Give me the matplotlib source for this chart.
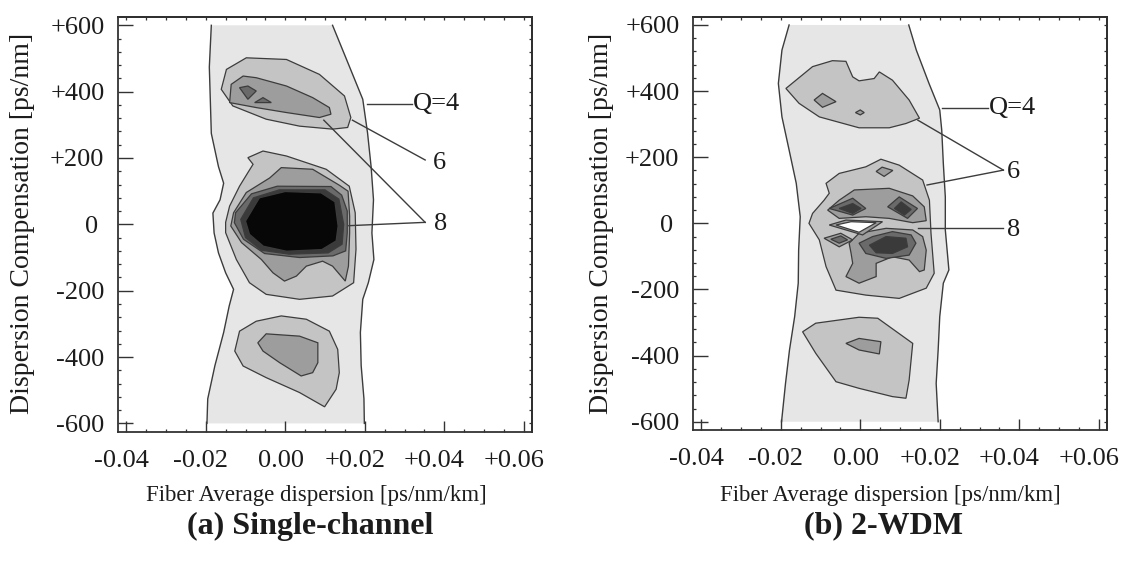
import matplotlib
matplotlib.use("Agg")
import matplotlib.pyplot as plt
from matplotlib.ticker import MultipleLocator
from matplotlib.transforms import ScaledTranslation

plt.rcParams['font.family'] = ['Liberation Serif', 'DejaVu Serif']

# ---------------- axis ticks / labels ----------------
x_ticks = [-0.04, -0.02, 0.00, 0.02, 0.04, 0.06]
x_tick_labels = ['-0.04', '-0.02', '0.00', '+0.02', '+0.04', '+0.06']
y_ticks = [-600, -400, -200, 0, 200, 400, 600]
y_tick_labels = ['-600', '-400', '-200', '0', '+200', '+400', '+600']
x_label = 'Fiber Average dispersion [ps/nm/km]'
y_label = 'Dispersion Compensation [ps/nm]'
titles = ['(a) Single-channel', '(b) 2-WDM']
contour_labels = ['Q=4', '6', '8']

# ---------------- panel (a): Q contour boundaries ----------------
a_q4_left_x = [-0.0186, -0.0191, -0.0186, -0.0168, -0.0155, -0.0164, -0.0182, -0.0179,
               -0.0168, -0.0150, -0.0130, -0.0141, -0.0155, -0.0177, -0.0195, -0.0197]
a_q4_left_y = [600, 474, 274, 174, 124, 74, 34, -26, -86, -146, -196, -246, -326, -426, -526, -600]
a_q4_right_x = [0.0119, 0.0161, 0.0195, 0.0207, 0.0216, 0.0222, 0.0218, 0.0223,
                0.0209, 0.0195, 0.0189, 0.0191, 0.0198, 0.0199]
a_q4_right_y = [600, 477, 377, 276, 174, 74, -26, -106, -176, -226, -326, -426, -526, -600]

a_q6_top_x = [-0.0161, -0.0148, -0.0098, 0.0003, 0.0086, 0.0149, 0.0165, 0.0157, 0.0119, 0.0036, -0.0048, -0.0132]
a_q6_top_y = [407, 467, 502, 497, 452, 387, 322, 292, 287, 296, 317, 357]
a_q8_top_x = [-0.0140, -0.0136, -0.0106, -0.0073, 0.0003, 0.0069, 0.0111, 0.0115, 0.0086, 0.0003, -0.0073]
a_q8_top_y = [367, 422, 447, 442, 417, 382, 352, 332, 322, 337, 352]
a_q10_top1_x = [-0.0115, -0.0094, -0.0073, -0.0094]
a_q10_top1_y = [412, 417, 402, 377]
a_q10_top2_x = [-0.0077, -0.0056, -0.0035]
a_q10_top2_y = [367, 382, 367]

a_q6_mid_x = [-0.0094, -0.0056, 0.0003, 0.0103, 0.0161, 0.0176, 0.0178, 0.0172, 0.0119, 0.0036,
              -0.0048, -0.0090, -0.0123, -0.0150, -0.0150, -0.0140, -0.0115, -0.0094, -0.0081]
a_q6_mid_y = [201, 221, 206, 166, 115, 35, -75, -176, -216, -226, -211, -176, -106, -25, 6, 55, 115, 156, 181]
a_q8_mid_x = [-0.0039, -0.0010, 0.0069, 0.0136, 0.0158, 0.0162, 0.0162, 0.0159, 0.0151, 0.0119,
              0.0094, 0.0053, 0.0028, -0.0002, -0.0031, -0.0060, -0.0110, -0.0137, -0.0130, -0.0098]
a_q8_mid_y = [140, 171, 166, 118, 100, 25, -25, -126, -171, -126, -111, -126, -156, -171, -146, -106, -55, -5, 35, 96]
a_q10_mid_x = [-0.0125, -0.0085, -0.0020, 0.0115, 0.0142, 0.0156, 0.0156, 0.0152, 0.0120, 0.0036, -0.0052, -0.0105, -0.0128]
a_q10_mid_y = [35, 92, 115, 114, 88, 40, -25, -80, -95, -100, -88, -45, 5]
a_q12_mid_x = [-0.0112, -0.0080, -0.0015, 0.0100, 0.0135, 0.0147, 0.0143, 0.0108, 0.0010, -0.0060, -0.0100]
a_q12_mid_y = [15, 80, 104, 104, 76, 0, -60, -86, -90, -78, -40]
a_core_x = [-0.0100, -0.0065, 0.0000, 0.0090, 0.0125, 0.0133, 0.0128, 0.0092, 0.0003, -0.0055, -0.0090]
a_core_y = [10, 80, 99, 95, 68, -5, -50, -76, -81, -66, -30]

a_q6_bot_x = [-0.0127, -0.0115, -0.0073, -0.0010, 0.0053, 0.0111, 0.0132, 0.0136, 0.0128, 0.0099, 0.0036, -0.0048, -0.0106]
a_q6_bot_y = [-382, -322, -292, -276, -286, -322, -377, -447, -497, -550, -507, -462, -427]
a_q8_bot_x = [-0.0069, -0.0048, 0.0036, 0.0082, 0.0082, 0.0069, 0.0040, -0.0014, -0.0056]
a_q8_bot_y = [-357, -330, -337, -357, -417, -447, -457, -417, -382]

# ---------------- panel (b): Q contour boundaries ----------------
b_q4_left_x = [-0.0179, -0.0197, -0.0206, -0.0197, -0.0179, -0.0161, -0.0151, -0.0155,
               -0.0156, -0.0165, -0.0178, -0.0188, -0.0198]
b_q4_left_y = [600, 524, 423, 322, 222, 121, 20, -81, -181, -282, -383, -484, -600]
b_q4_right_x = [0.0122, 0.0141, 0.0173, 0.0200, 0.0205, 0.0209, 0.0214, 0.0214, 0.0223,
                0.0209, 0.0200, 0.0196, 0.0191, 0.0196]
b_q4_right_y = [600, 524, 423, 343, 282, 181, 80, -20, -141, -181, -282, -383, -484, -600]

b_q6_top_x = [-0.0187, -0.0120, -0.0070, -0.0036, -0.0019, -0.0003, 0.0035, 0.0048, 0.0081,
              0.0123, 0.0149, 0.0115, 0.0073, -0.0003, -0.0103, -0.0154]
b_q6_top_y = [408, 474, 492, 490, 443, 431, 438, 458, 433, 373, 318, 302, 289, 289, 322, 363]
b_q8_top_x = [-0.0116, -0.0095, -0.0061, -0.0095]
b_q8_top_y = [373, 393, 368, 351]
b_q8_dot_x = [-0.0012, 0.0000, 0.0010, 0.0000]
b_q8_dot_y = [335, 343, 335, 328]

b_q6_mid_x = [-0.0086, -0.0053, 0.0014, 0.0052, 0.0098, 0.0157, 0.0174, 0.0178, 0.0186, 0.0166,
              0.0098, 0.0014, -0.0061, -0.0086, -0.0103, -0.0129, -0.0120, -0.0091, -0.0078]
b_q6_mid_y = [121, 151, 171, 194, 176, 131, 70, -30, -151, -196, -227, -217, -202, -131, -50, 0, 30, 70, 91]
b_q8_midtop_x = [0.0040, 0.0055, 0.0082, 0.0060]
b_q8_midtop_y = [157, 170, 160, 142]
b_q8_upper_x = [-0.0015, 0.0073, 0.0132, 0.0161, 0.0166, 0.0132, 0.0073, 0.0014, -0.0053, -0.0082, -0.0053]
b_q8_upper_y = [101, 106, 83, 50, 8, 2, 15, 20, 15, 40, 70]
b_q10_ul_x = [-0.0078, -0.0019, 0.0014, -0.0019]
b_q10_ul_y = [45, 76, 45, 25]
b_q12_ul_x = [-0.0053, -0.0019, 0.0002, -0.0019]
b_q12_ul_y = [45, 60, 45, 30]
b_q10_ur_x = [0.0069, 0.0098, 0.0144, 0.0119]
b_q10_ur_y = [50, 80, 45, 15]
b_q12_ur_x = [0.0086, 0.0103, 0.0128, 0.0111]
b_q12_ur_y = [45, 65, 42, 25]
b_q8_lower_x = [-0.0028, -0.0003, 0.0065, 0.0132, 0.0157, 0.0166, 0.0161, 0.0149, 0.0123, 0.0081,
                0.0040, 0.0040, -0.0003, -0.0036, -0.0019, -0.0023]
b_q8_lower_y = [-60, -30, -15, -20, -40, -81, -141, -146, -111, -101, -121, -161, -181, -161, -121, -91]
b_q10_lower_x = [-0.0003, 0.0031, 0.0081, 0.0128, 0.0140, 0.0123, 0.0065, 0.0014]
b_q10_lower_y = [-60, -40, -25, -35, -60, -96, -106, -91]
b_q12_lower_x = [0.0023, 0.0065, 0.0115, 0.0119, 0.0081, 0.0040]
b_q12_lower_y = [-66, -40, -45, -71, -91, -89]
b_ring_x = [-0.0078, -0.0036, 0.0056, 0.0006]
b_ring_y = [-5, 10, 5, -35]
b_peak_x = [-0.0061, -0.0023, 0.0040, -0.0003]
b_peak_y = [-5, 5, 2, -27]
b_q8_sl_x = [-0.0091, -0.0049, -0.0019, -0.0053]
b_q8_sl_y = [-45, -30, -50, -71]
b_q10_sl_x = [-0.0074, -0.0049, -0.0032, -0.0053]
b_q10_sl_y = [-48, -38, -50, -60]
b_q6_bot_x = [-0.0145, -0.0112, -0.0003, 0.0044, 0.0132, 0.0123, 0.0115, 0.0081, -0.0003, -0.0061, -0.0112]
b_q6_bot_y = [-328, -302, -284, -287, -363, -474, -529, -524, -499, -479, -393]
b_q8_bot_x = [-0.0036, -0.0003, 0.0052, 0.0048, -0.0003]
b_q8_bot_y = [-363, -348, -358, -395, -383]

# ---------------- styles ----------------
FILL = {4: '#e6e6e6', 6: '#c4c4c4', 8: '#9d9d9d', 10: '#6a6a6a', 12: '#3a3a3a',
        14: '#070707', 'peak': '#ffffff'}
LINE = '#3c3c3c'
TXT = '#1c1c1c'

a_layers = [
    (6, a_q6_top_x, a_q6_top_y), (8, a_q8_top_x, a_q8_top_y),
    (10, a_q10_top1_x, a_q10_top1_y), (10, a_q10_top2_x, a_q10_top2_y),
    (6, a_q6_mid_x, a_q6_mid_y), (8, a_q8_mid_x, a_q8_mid_y),
    (10, a_q10_mid_x, a_q10_mid_y), (12, a_q12_mid_x, a_q12_mid_y), (14, a_core_x, a_core_y),
    (6, a_q6_bot_x, a_q6_bot_y), (8, a_q8_bot_x, a_q8_bot_y),
]
b_layers = [
    (6, b_q6_top_x, b_q6_top_y), (8, b_q8_top_x, b_q8_top_y), (8, b_q8_dot_x, b_q8_dot_y),
    (6, b_q6_mid_x, b_q6_mid_y), (8, b_q8_midtop_x, b_q8_midtop_y),
    (8, b_q8_upper_x, b_q8_upper_y),
    (10, b_q10_ul_x, b_q10_ul_y), (12, b_q12_ul_x, b_q12_ul_y),
    (10, b_q10_ur_x, b_q10_ur_y), (12, b_q12_ur_x, b_q12_ur_y),
    (8, b_q8_lower_x, b_q8_lower_y), (10, b_q10_lower_x, b_q10_lower_y),
    (12, b_q12_lower_x, b_q12_lower_y),
    (8, b_ring_x, b_ring_y), ('peak', b_peak_x, b_peak_y),
    (8, b_q8_sl_x, b_q8_sl_y), (10, b_q10_sl_x, b_q10_sl_y),
    (6, b_q6_bot_x, b_q6_bot_y), (8, b_q8_bot_x, b_q8_bot_y),
]

W, H = 1128, 564
fig = plt.figure(figsize=(W / 100, H / 100), dpi=100)
fig.patch.set_facecolor('white')


def make_panel(rect, q4l_x, q4l_y, q4r_x, q4r_y, layers):
    ax = fig.add_axes(rect)
    ax.set_xlim(-0.042, 0.062)
    ax.set_ylim(-625, 625)
    # Q=4 band
    ax.fill(q4l_x + q4r_x[::-1], q4l_y + q4r_y[::-1], facecolor=FILL[4], edgecolor='none', zorder=1)
    ax.plot(q4l_x, q4l_y, color=LINE, lw=1.0, zorder=2)
    ax.plot(q4r_x, q4r_y, color=LINE, lw=1.0, zorder=2)
    for i, (lev, xs, ys) in enumerate(layers):
        ax.fill(xs, ys, facecolor=FILL[lev], edgecolor=LINE, lw=0.9, zorder=3 + i * 0.01)
    # ticks
    ax.set_xticks(x_ticks)
    ax.set_xticklabels(x_tick_labels)
    ax.set_yticks(y_ticks)
    ax.set_yticklabels(y_tick_labels)
    ax.xaxis.set_minor_locator(MultipleLocator(0.005))
    ax.yaxis.set_minor_locator(MultipleLocator(40))
    ax.tick_params(axis='x', which='major', direction='in', length=8, width=1.0, pad=13,
                   labelsize=19, labelcolor=TXT, color='#333333')
    ax.tick_params(axis='y', which='major', direction='in', length=11, width=1.0, pad=10,
                   labelsize=19, labelcolor=TXT, color='#333333')
    ax.tick_params(which='minor', direction='in', length=2.5, width=0.9, color='#333333')
    for sp in ax.spines.values():
        sp.set_linewidth(1.3)
        sp.set_color('#333333')
    # mirrored short ticks on top / right
    sx = ax.secondary_xaxis('top')
    sx.set_xticks(x_ticks)
    sx.xaxis.set_minor_locator(MultipleLocator(0.005))
    sx.tick_params(which='both', direction='in', length=2.5, width=0.9, labeltop=False, color='#333333')
    sx.spines['top'].set_linewidth(1.3)
    sy = ax.secondary_yaxis('right')
    sy.set_yticks(y_ticks)
    sy.yaxis.set_minor_locator(MultipleLocator(40))
    sy.tick_params(which='both', direction='in', length=2.5, width=0.9, labelright=False, color='#333333')
    sy.spines['right'].set_linewidth(1.3)
    # nudge tick labels like the original
    for t, lab in zip(ax.xaxis.get_major_ticks(), x_tick_labels):
        dx = -10 if lab.startswith('+') else (-5 if lab.startswith('-') else -4.5)
        t.label1.set_transform(t.label1.get_transform() + ScaledTranslation(dx / 100, 0, fig.dpi_scale_trans))
    for t, lab in zip(ax.yaxis.get_major_ticks(), y_tick_labels):
        if lab == '0':
            t.label1.set_transform(t.label1.get_transform() + ScaledTranslation(-6 / 100, 0, fig.dpi_scale_trans))
    return ax


axA = make_panel([118.3 / W, 1 - 431.7 / H, 413.4 / W, 414.7 / H],
                 a_q4_left_x, a_q4_left_y, a_q4_right_x, a_q4_right_y, a_layers)
axB = make_panel([693.3 / W, 1 - 430.0 / H, 413.4 / W, 413.3 / H],
                 b_q4_left_x, b_q4_left_y, b_q4_right_x, b_q4_right_y, b_layers)

# leader lines and contour labels
lk = dict(color=LINE, lw=1.0, zorder=6, clip_on=False)
tk = dict(fontsize=19, color=TXT, va='center', zorder=7)
axA.plot([0.0205, 0.0318], [362, 362], **lk)
axA.text(0.0320, 362, contour_labels[0], ha='left', **tk)
axA.plot([0.0169, 0.0352], [314, 194], **lk)
axA.text(0.0387, 184, contour_labels[1], ha='center', **tk)
axA.plot([0.0097, 0.0352], [314, 6], **lk)
axA.plot([0.0160, 0.0352], [-4, 6], **lk)
axA.text(0.0391, 0, contour_labels[2], ha='center', **tk)

axB.plot([0.0205, 0.0322], [348, 348], **lk)
axB.text(0.0324, 348, contour_labels[0], ha='left', **tk)
axB.plot([0.0145, 0.0360], [312, 161], **lk)
axB.plot([0.0168, 0.0360], [116, 161], **lk)
axB.text(0.0385, 156, contour_labels[1], ha='center', **tk)
axB.plot([0.0145, 0.0360], [-15, -15], **lk)
axB.text(0.0387, -20, contour_labels[2], ha='center', **tk)

# axis labels and panel titles
for cx, ycx in [(316, 23), (890, 602)]:
    fig.text(cx / W, 1 - 496 / H, x_label, ha='center', va='center', fontsize=16.5, color=TXT)
    fig.text(ycx / W, 1 - 223.5 / H, y_label, ha='center', va='center', rotation=90, fontsize=20, color=TXT)
fig.text(310 / W, 1 - 526 / H, titles[0], ha='center', va='center', fontsize=23, fontweight='bold', color=TXT)
fig.text(884 / W, 1 - 526 / H, titles[1], ha='center', va='center', fontsize=23, fontweight='bold', color=TXT)

fig.savefig('out.png', dpi=100, facecolor='white')
